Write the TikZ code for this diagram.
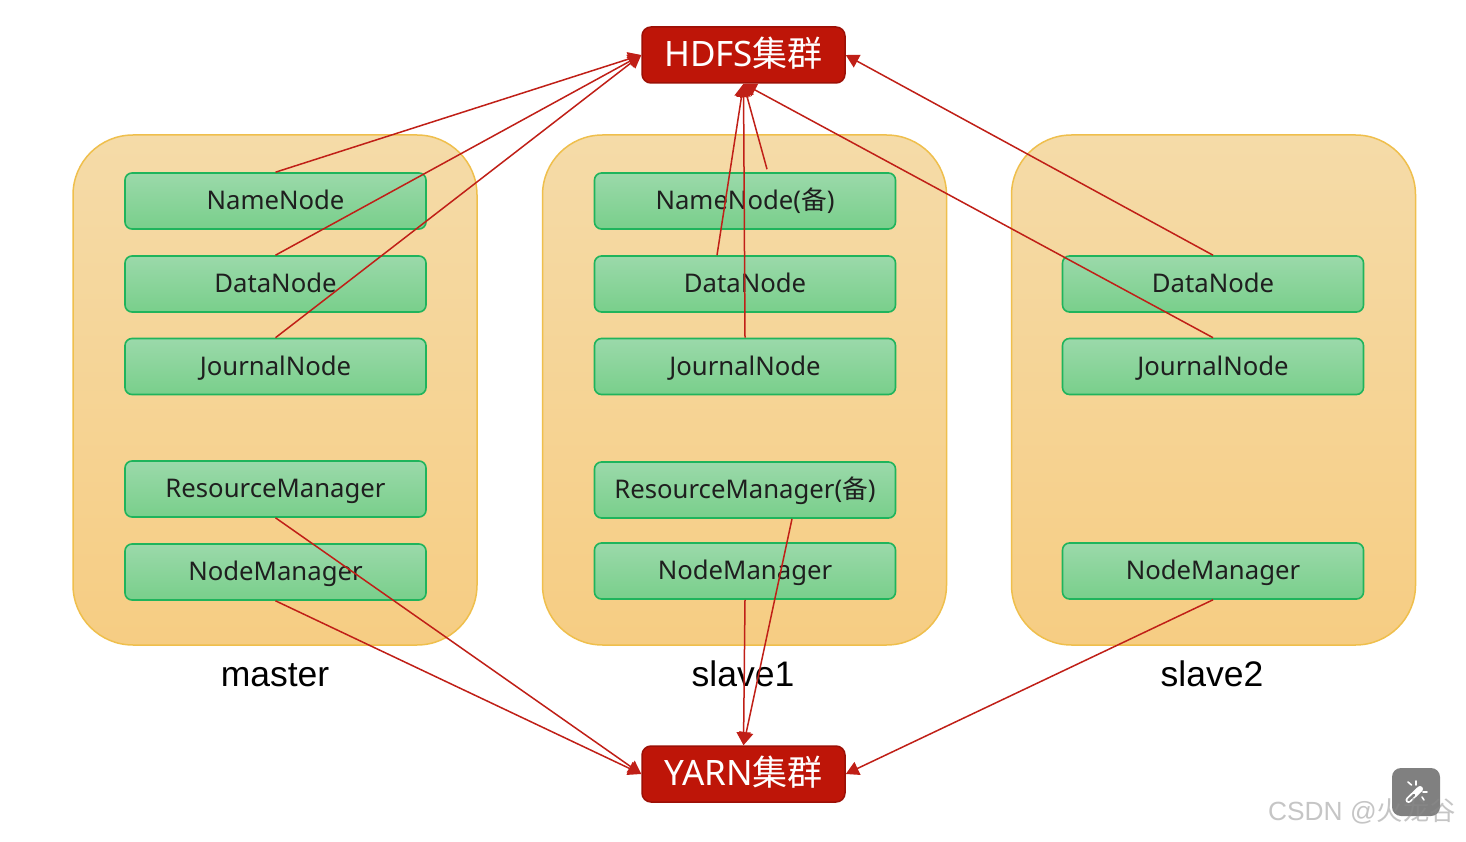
\documentclass[tikz,border=0pt]{standalone}
\usepackage{fontspec}
\setmainfont{Noto Sans}
\newfontfamily\cjk{Noto Sans CJK SC}
\newfontfamily\wm{Liberation Sans}
\usetikzlibrary{arrows.meta,calc}
\definecolor{hostTop}{HTML}{F5DBA8}
\definecolor{hostBot}{HTML}{F6CD83}
\definecolor{hostLine}{HTML}{EFBF4C}
\definecolor{roleTop}{HTML}{9BD9AA}
\definecolor{roleBot}{HTML}{79CF8B}
\definecolor{roleLine}{HTML}{1FB45C}
\definecolor{redFill}{HTML}{BE1508}
\definecolor{redLine}{HTML}{9C1006}
\definecolor{linkRed}{HTML}{C01F17}
\tikzset{
  x=1pt,y=-1pt,
  hostbox/.style={draw=hostLine,line width=1.5pt,rounded corners=60pt,top color=hostTop,bottom color=hostBot,minimum width=404pt,minimum height=510pt,inner sep=0pt},
  rolebox/.style={draw=roleLine,line width=1.6pt,rounded corners=7pt,top color=roleTop,bottom color=roleBot,minimum width=301pt,minimum height=56pt,inner sep=0pt,text=black!88,text height=19pt,text depth=2pt,font=\fontsize{25.7}{30}\selectfont},
  clusterbox/.style={draw=redLine,line width=1.5pt,rounded corners=9pt,fill=redFill,minimum width=203pt,minimum height=56pt,inner sep=0pt,text=white,text height=25pt,text depth=2pt,font=\fontsize{35}{42}\selectfont},
  hostlabel/.style={inner sep=0pt,text=black,text height=25pt,text depth=1pt,font=\wm\fontsize{35.5}{42}\selectfont},
  link/.style={draw=linkRed,line width=1.5pt,-{Triangle[length=13pt,width=14pt]},shorten >=0pt}
}
\begin{document}
\begin{tikzpicture}
\useasboundingbox (0,0) rectangle (1466,842);
\fill[white] (0,0) rectangle (1466,842);
% hosts
\node[hostbox] (h1) at (275,390) {};
\node[hostbox] (h2) at (744.5,390) {};
\node[hostbox] (h3) at (1213.5,390) {};
% master
\node[rolebox] (mnn) at (275.5,201) {NameNode};
\node[rolebox] (mdn) at (275.5,284) {DataNode};
\node[rolebox] (mjn) at (275.5,366.5) {JournalNode};
\node[rolebox] (mrm) at (275.5,489) {ResourceManager};
\node[rolebox] (mnm) at (275.5,572) {NodeManager};
% slave1
\node[rolebox] (anb) at (745,201) {NameNode({\cjk 备})};
\node[rolebox] (adn) at (745,284) {DataNode};
\node[rolebox] (ajn) at (745,366.5) {JournalNode};
\node[rolebox] (arm) at (745,490) {ResourceManager({\cjk 备})};
\node[rolebox] (anm) at (745,571) {NodeManager};
% slave2
\node[rolebox] (bdn) at (1213,284) {DataNode};
\node[rolebox] (bjn) at (1213,366.5) {JournalNode};
\node[rolebox] (bnm) at (1213,571) {NodeManager};
% clusters
\node[clusterbox] (hdfs) at (743.5,55) {HDFS{\cjk 集群}};
\node[clusterbox] (yarn) at (743.5,774) {YARN{\cjk 集群}};
% labels
\node[hostlabel] (lm) at (275,674) {master};
\node[hostlabel] (la) at (743,674) {slave1};
\node[hostlabel] (lb) at (1212,674) {slave2};
% off-centre link ends
\coordinate (anbout) at ($(anb.north)+(22,-3)$);
\coordinate (adnout) at ($(adn.north)+(-28,0)$);
\coordinate (armout) at ($(arm.south)+(47,0)$);
% links to HDFS
\draw[link] (mnn.north) -- (hdfs.west);
\draw[link] (mdn.north) -- (hdfs.west);
\draw[link] (mjn.north) -- (hdfs.west);
\draw[link] (anbout) -- (hdfs.south);
\draw[link] (adnout) -- (hdfs.south);
\draw[link] (ajn.north) -- (hdfs.south);
\draw[link] (bdn.north) -- (hdfs.east);
\draw[link] (bjn.north) -- (hdfs.south);
% links to YARN
\draw[link] (mrm.south) -- (yarn.west);
\draw[link] (mnm.south) -- (yarn.west);
\draw[link] (armout) -- (yarn.north);
\draw[link] (anm.south) -- (yarn.north);
\draw[link] (bnm.south) -- (yarn.east);
% overlay button
\fill[black!50,rounded corners=9pt] (1392,768) rectangle (1440,816);
\draw[white,line width=6pt,line cap=round] (1408.5,800) -- (1420,789);
\draw[black!50,line width=2.5pt,line cap=round] (1408.5,800) -- (1414,795);
\draw[white,line width=1.6pt,line cap=round] (1408,782) -- (1411.5,785) (1416,781) -- (1416,785) (1423,792) -- (1427,792) (1422,797) -- (1424,800);
% watermark
\node[inner sep=0pt,anchor=west,text=black!45,opacity=.5,font=\wm\fontsize{26.3}{32}\selectfont] (wmk) at (1268,811) {CSDN @{\cjk 火龙谷}};
\end{tikzpicture}
\end{document}
